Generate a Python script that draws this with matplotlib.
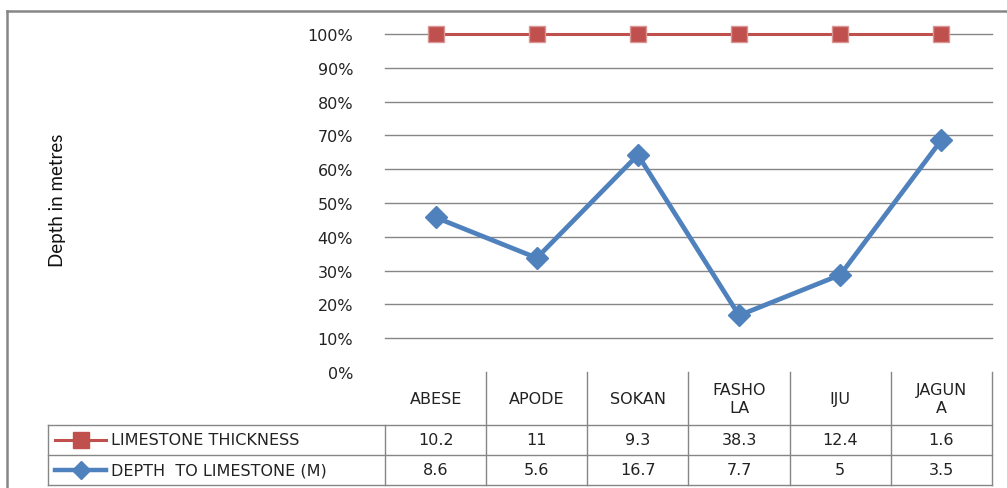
import matplotlib
matplotlib.use("Agg")

import numpy as np
import matplotlib.pyplot as plt
import matplotlib.transforms as mtransforms
from matplotlib.lines import Line2D

# 数据
sites = ["ABESE", "APODE", "SOKAN", "FASHOLA", "IJU", "JAGUNA"]
header_labels = ["ABESE", "APODE", "SOKAN", "FASHO\nLA", "IJU", "JAGUN\nA"]
thickness = [10.2, 11, 9.3, 38.3, 12.4, 1.6]
depth = [8.6, 5.6, 16.7, 7.7, 5, 3.5]
series_names = ["LIMESTONE THICKNESS", "DEPTH  TO LIMESTONE (M)"]
y_ticks = [0, 0.1, 0.2, 0.3, 0.4, 0.5, 0.6, 0.7, 0.8, 0.9, 1.0]

RED = "#C0504D"
BLUE = "#4F81BD"
GRID = "#868686"
TXT = "#222222"
W, H = 1007, 489

plt.rcParams["font.family"] = ["DejaVu Sans"]

fig = plt.figure(figsize=(W / 100, H / 100), dpi=100)
fig.patch.set_facecolor("white")

# 绘图区 (像素 -> 比例)
left, right, top, bottom = 385, 992, 35, 373
ax = fig.add_axes([left / W, 1 - bottom / H, (right - left) / W, (bottom - top) / H])

# 百分比堆积折线
x = np.arange(len(sites))
dep = np.array(depth)
thk = np.array(thickness)
total = dep + thk
depth_pct = dep / total
thick_pct = (dep + thk) / total

ax.plot(x, thick_pct, color=RED, linewidth=2.2, marker="s", markersize=12,
        markerfacecolor=RED, markeredgecolor="#D99694", markeredgewidth=1,
        zorder=3, clip_on=False)
ax.plot(x, depth_pct, color=BLUE, linewidth=3.4, marker="D", markersize=11,
        markerfacecolor=BLUE, markeredgecolor=BLUE, zorder=3, clip_on=False)

ax.set_xlim(-0.5, len(sites) - 0.5)
ax.set_ylim(0, 1)
ax.set_yticks(y_ticks)
ax.set_yticklabels([f"{int(round(t * 100))}%" for t in y_ticks], fontsize=11.5, color=TXT)
ax.tick_params(axis="y", length=0, pad=23)
ax.set_xticks([])
for s in ax.spines.values():
    s.set_visible(False)
for t in y_ticks[1:]:
    ax.axhline(t, color=GRID, linewidth=1.0, zorder=1, clip_on=False)

# 数据表 (x 用数据坐标, y 用图像比例)
trans = mtransforms.blended_transform_factory(ax.transData, fig.transFigure)
def fy(py):
    return 1 - py / H

row_top, row_mid, row_bot = 426, 456, 486
legend_left = 48
lw = 1.0
# 水平线
for py in [row_top, row_mid, row_bot]:
    fig.add_artist(Line2D([legend_left / W, right / W], [fy(py), fy(py)],
                          color=GRID, linewidth=lw))
# 竖线
for i in range(1, len(sites) + 1):
    xb = i - 0.5
    fig.add_artist(Line2D([xb, xb], [fy(bottom), fy(row_bot)], color=GRID,
                          linewidth=lw, transform=trans))
fig.add_artist(Line2D([-0.5, -0.5], [fy(row_top), fy(row_bot)], color=GRID,
                      linewidth=lw, transform=trans))
fig.add_artist(Line2D([legend_left / W, legend_left / W], [fy(row_top), fy(row_bot)],
                      color=GRID, linewidth=lw))

# 表头与数值
for i, lab in enumerate(header_labels):
    fig.text(i, fy(400), lab, transform=trans, ha="center", va="center",
             fontsize=11.5, color=TXT, linespacing=1.25)
    fig.text(i, fy(441), f"{thickness[i]:g}", transform=trans, ha="center",
             va="center", fontsize=11.5, color=TXT)
    fig.text(i, fy(471), f"{depth[i]:g}", transform=trans, ha="center",
             va="center", fontsize=11.5, color=TXT)

# 图例列
for py, name, col, mk, ms, lwd in [(441, series_names[0], RED, "s", 11, 2.2),
                                   (471, series_names[1], BLUE, "D", 9, 3.2)]:
    fig.add_artist(Line2D([55 / W, 106 / W], [fy(py), fy(py)], color=col, linewidth=lwd))
    fig.add_artist(Line2D([80.5 / W], [fy(py)], color=col, marker=mk, markersize=ms,
                          markeredgecolor=col, linestyle="none"))
    fig.text(111 / W, fy(py), name, ha="left", va="center", fontsize=11.5, color=TXT)

# Y 轴标题
fig.text(57 / W, fy(200), "Depth in metres", rotation=90, ha="center", va="center",
         fontsize=13.5, family=["Lato", "DejaVu Sans"], color="#111111")

# 外框
fig.add_artist(Line2D([7 / W, 1], [fy(12), fy(12)], color=GRID, linewidth=1.8))
fig.add_artist(Line2D([7 / W, 7 / W], [fy(12), 0], color=GRID, linewidth=1.8))

fig.savefig("out.png", dpi=100, facecolor="white")
